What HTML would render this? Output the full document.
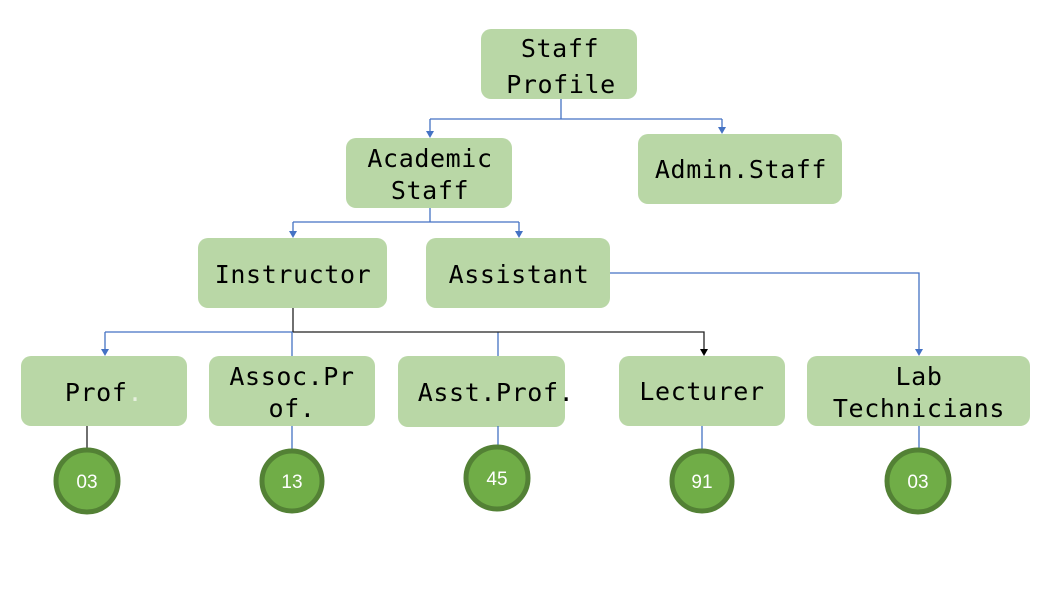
<!DOCTYPE html>
<html><head><meta charset="utf-8"><style>
html,body{margin:0;padding:0;background:#fff;}
svg text{font-family:"DejaVu Sans Mono","Liberation Mono",monospace;font-size:25px;letter-spacing:0.6px;fill:#000;text-anchor:middle;}
svg text.n{font-family:"Liberation Sans",sans-serif;font-size:19px;letter-spacing:0;fill:#fff;}
</style></head><body>
<svg width="1043" height="587" viewBox="0 0 1043 587" xmlns="http://www.w3.org/2000/svg">
<g fill="#b9d7a6">
<rect x="481" y="29" width="156" height="70" rx="10"/>
<rect x="346" y="138" width="166" height="70" rx="10"/>
<rect x="638" y="134" width="204" height="70" rx="10"/>
<rect x="198" y="238" width="189" height="70" rx="10"/>
<rect x="426" y="238" width="184" height="70" rx="10"/>
<rect x="21" y="356" width="166" height="70" rx="10"/>
<rect x="209" y="356" width="166" height="70" rx="10"/>
<rect x="398" y="356" width="167" height="71" rx="10"/>
<rect x="619" y="356" width="166" height="70" rx="10"/>
<rect x="807" y="356" width="223" height="70" rx="10"/>
</g>
<g stroke="#4472c4" stroke-width="1.3" fill="none">
<path d="M561,99V119M430,119H722M430,119V131M722,119V127"/>
<path d="M430,208V222M293,222H519M293,222V231M519,222V231"/>
<path d="M105,332H293M105,332V349"/>
<path d="M292,332V356M498,332V356"/>
<path d="M610,273H919V349"/>
<path d="M292,426V450M498,426V447M702,426V450M919,426V450"/>
</g>
<g fill="#4472c4">
<path d="M426,131h8l-4,7z"/><path d="M718,127h8l-4,7z"/>
<path d="M289,231h8l-4,7z"/><path d="M515,231h8l-4,7z"/>
<path d="M101,349h8l-4,7z"/><path d="M915,349h8l-4,7z"/>
</g>
<g stroke="#222" stroke-width="1.3" fill="none">
<path d="M293,308V332M293,332H704V349M87,426V450"/>
</g>
<path d="M700,349h8l-4,7z" fill="#000"/>
<g fill="#70ad47" stroke="#538135" stroke-width="5">
<circle cx="87" cy="481" r="31"/>
<circle cx="292" cy="481" r="30"/>
<circle cx="497" cy="478" r="31"/>
<circle cx="702" cy="481" r="30"/>
<circle cx="918" cy="481" r="31"/>
</g>
<text x="560" y="57">Staff</text>
<text x="561" y="93">Profile</text>
<text x="430" y="167">Academic</text>
<text x="430" y="199">Staff</text>
<text x="741" y="178">Admin.Staff</text>
<text x="293" y="283">Instructor</text>
<text x="519" y="283">Assistant</text>
<text x="104" y="401">Prof<tspan fill="#e6f0de">.</tspan></text>
<text x="292" y="385">Assoc.Pr</text>
<text x="292" y="417">of.</text>
<text x="496" y="401">Asst.Prof.</text>
<text x="702" y="400">Lecturer</text>
<text x="919" y="385">Lab</text>
<text x="919" y="417">Technicians</text>
<text class="n" x="87" y="488">03</text>
<text class="n" x="292" y="488">13</text>
<text class="n" x="497" y="485">45</text>
<text class="n" x="702" y="488">91</text>
<text class="n" x="918" y="488">03</text>
</svg>
</body></html>
